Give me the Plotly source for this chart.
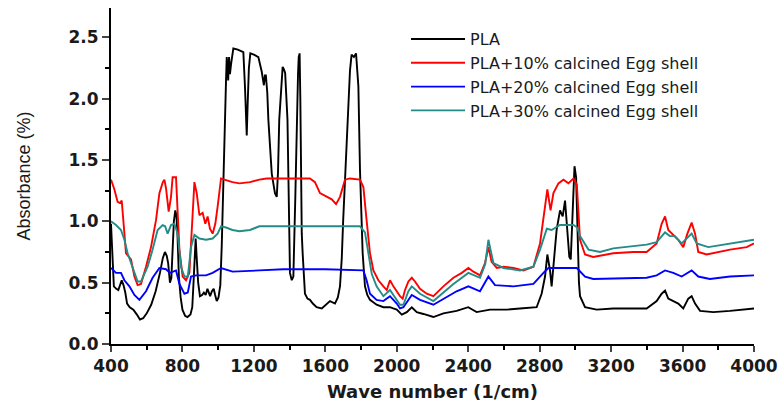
import plotly.graph_objects as go

series_names = ["PLA", "PLA+10% calcined Egg shell", "PLA+20% calcined Egg shell", "PLA+30% calcined Egg shell"]
series_colors = ["#000000", "#ff0000", "#0000ff", "#238c86"]

pla_wn = [400, 408, 416, 430, 441, 460, 470, 480, 490, 505, 525, 545, 562, 580, 600, 625, 650, 674, 690, 702, 712, 720, 730, 738, 745, 752, 760, 766, 772, 780, 790, 800, 815, 828, 845, 855, 862, 868, 874, 880, 888, 898, 910, 920, 930, 940, 948, 955, 965, 975, 983, 992, 1002, 1012, 1020, 1030, 1038, 1044, 1048, 1052, 1056, 1061, 1066, 1072, 1085, 1110, 1141, 1150, 1156, 1160, 1165, 1172, 1180, 1200, 1225, 1244, 1256, 1262, 1267, 1275, 1281, 1300, 1310, 1318, 1328, 1335, 1342, 1352, 1361, 1368, 1375, 1388, 1395, 1402, 1412, 1421, 1432, 1440, 1447, 1451, 1456, 1460, 1463, 1468, 1473, 1486, 1500, 1514, 1530, 1551, 1580, 1608, 1626, 1654, 1670, 1682, 1692, 1700, 1719, 1738, 1747, 1760, 1772, 1785, 1794, 1809, 1822, 1835, 1850, 1887, 1925, 1962, 1980, 2000, 2028, 2045, 2056, 2084, 2112, 2149, 2205, 2261, 2335, 2400, 2447, 2522, 2616, 2690, 2783, 2811, 2830, 2843, 2858, 2867, 2880, 2895, 2914, 2929, 2942, 2951, 2966, 2974, 2985, 2995, 3004, 3012, 3020, 3026, 3054, 3119, 3212, 3399, 3455, 3483, 3502, 3520, 3548, 3576, 3604, 3632, 3651, 3670, 3698, 3772, 3866, 3959, 4000]
pla_abs = [0.98, 0.70, 0.47, 0.45, 0.44, 0.52, 0.48, 0.42, 0.33, 0.30, 0.28, 0.24, 0.20, 0.21, 0.25, 0.32, 0.43, 0.58, 0.70, 0.75, 0.72, 0.66, 0.50, 0.54, 0.75, 1.00, 1.09, 1.05, 0.90, 0.55, 0.38, 0.28, 0.23, 0.22, 0.24, 0.30, 0.50, 0.75, 0.86, 0.70, 0.50, 0.39, 0.40, 0.42, 0.40, 0.45, 0.42, 0.39, 0.43, 0.45, 0.40, 0.35, 0.38, 0.48, 0.80, 1.45, 1.90, 2.15, 2.34, 2.20, 2.15, 2.34, 2.20, 2.28, 2.41, 2.40, 2.38, 2.10, 1.90, 1.70, 1.95, 2.25, 2.37, 2.36, 2.34, 2.22, 2.11, 2.19, 2.19, 2.05, 1.83, 1.39, 1.30, 1.23, 1.20, 1.40, 1.83, 2.10, 2.26, 2.24, 2.21, 1.83, 1.20, 0.58, 0.52, 0.55, 1.20, 1.83, 2.20, 2.34, 2.37, 2.00, 1.50, 0.90, 0.74, 0.41, 0.37, 0.36, 0.33, 0.30, 0.29, 0.33, 0.35, 0.33, 0.38, 0.47, 0.70, 1.01, 1.69, 2.23, 2.36, 2.34, 2.37, 2.10, 1.42, 0.74, 0.47, 0.40, 0.36, 0.32, 0.30, 0.30, 0.29, 0.28, 0.24, 0.25, 0.26, 0.30, 0.26, 0.245, 0.22, 0.25, 0.27, 0.30, 0.26, 0.28, 0.28, 0.29, 0.30, 0.41, 0.55, 0.73, 0.60, 0.47, 0.66, 0.93, 1.09, 1.04, 1.17, 1.01, 0.71, 0.69, 1.17, 1.45, 1.36, 0.90, 0.50, 0.39, 0.30, 0.28, 0.29, 0.29, 0.35, 0.41, 0.435, 0.37, 0.35, 0.33, 0.29, 0.37, 0.39, 0.33, 0.27, 0.26, 0.27, 0.28, 0.29]

es10_wn = [400, 410, 419, 437, 450, 460, 466, 475, 484, 512, 531, 549, 568, 596, 624, 652, 671, 690, 699, 708, 723, 736, 745, 764, 773, 783, 801, 820, 839, 854, 867, 880, 895, 913, 928, 941, 954, 969, 984, 997, 1016, 1035, 1080, 1119, 1178, 1231, 1271, 1514, 1542, 1570, 1608, 1636, 1660, 1682, 1710, 1738, 1794, 1813, 1831, 1850, 1869, 1897, 1925, 1944, 1962, 1981, 2009, 2018, 2033, 2046, 2065, 2084, 2102, 2130, 2168, 2205, 2261, 2317, 2364, 2401, 2429, 2466, 2494, 2513, 2531, 2560, 2597, 2653, 2709, 2765, 2802, 2830, 2843, 2861, 2877, 2905, 2933, 2961, 2989, 3008, 3017, 3026, 3054, 3100, 3212, 3324, 3399, 3455, 3483, 3502, 3520, 3548, 3576, 3604, 3627, 3651, 3670, 3688, 3735, 3866, 3959, 4000]
es10_abs = [1.34, 1.30, 1.26, 1.16, 1.15, 1.17, 1.05, 0.85, 0.74, 0.69, 0.55, 0.48, 0.49, 0.63, 0.79, 1.01, 1.23, 1.32, 1.34, 1.27, 1.08, 1.20, 1.36, 1.36, 1.12, 0.77, 0.55, 0.52, 0.58, 1.01, 1.32, 1.23, 1.05, 1.07, 0.98, 1.04, 0.94, 0.90, 0.98, 1.12, 1.35, 1.34, 1.32, 1.31, 1.32, 1.34, 1.35, 1.35, 1.32, 1.23, 1.20, 1.18, 1.14, 1.20, 1.34, 1.35, 1.34, 1.28, 1.01, 0.74, 0.60, 0.52, 0.47, 0.44, 0.52, 0.47, 0.41, 0.39, 0.37, 0.44, 0.51, 0.54, 0.51, 0.45, 0.41, 0.39, 0.47, 0.54, 0.58, 0.62, 0.59, 0.56, 0.66, 0.79, 0.67, 0.62, 0.63, 0.62, 0.60, 0.63, 0.82, 1.12, 1.26, 1.09, 1.23, 1.31, 1.34, 1.31, 1.35, 1.30, 1.04, 0.85, 0.73, 0.71, 0.74, 0.75, 0.75, 0.82, 0.98, 1.04, 0.93, 0.89, 0.85, 0.79, 0.90, 0.99, 0.90, 0.75, 0.73, 0.77, 0.79, 0.82]

es20_wn = [400, 428, 456, 475, 503, 531, 559, 596, 633, 671, 708, 730, 764, 783, 811, 830, 848, 876, 932, 969, 1016, 1081, 1231, 1365, 1600, 1813, 1831, 1850, 1887, 1925, 1962, 2000, 2018, 2037, 2084, 2130, 2205, 2335, 2401, 2466, 2513, 2550, 2653, 2765, 2821, 2849, 3008, 3054, 3100, 3399, 3455, 3502, 3548, 3595, 3651, 3688, 3753, 3866, 4000]
es20_abs = [0.62, 0.58, 0.58, 0.52, 0.47, 0.40, 0.36, 0.43, 0.54, 0.62, 0.61, 0.58, 0.60, 0.49, 0.41, 0.42, 0.55, 0.56, 0.56, 0.58, 0.62, 0.59, 0.60, 0.61, 0.61, 0.60, 0.52, 0.41, 0.36, 0.35, 0.39, 0.33, 0.29, 0.30, 0.40, 0.36, 0.32, 0.43, 0.47, 0.43, 0.55, 0.48, 0.47, 0.49, 0.58, 0.62, 0.62, 0.55, 0.53, 0.54, 0.56, 0.60, 0.58, 0.55, 0.60, 0.55, 0.53, 0.55, 0.56]

es30_wn = [400, 428, 456, 475, 493, 521, 549, 568, 605, 633, 661, 689, 703, 717, 736, 755, 773, 792, 811, 830, 848, 867, 895, 932, 969, 997, 1016, 1044, 1080, 1119, 1178, 1231, 1365, 1551, 1700, 1794, 1822, 1841, 1860, 1887, 1925, 1962, 1981, 2000, 2018, 2037, 2065, 2084, 2130, 2205, 2317, 2401, 2466, 2495, 2513, 2541, 2597, 2690, 2765, 2802, 2840, 2867, 2914, 2989, 3010, 3026, 3073, 3138, 3212, 3399, 3455, 3502, 3529, 3557, 3595, 3651, 3679, 3744, 3866, 4000]
es30_abs = [1.00, 0.97, 0.93, 0.85, 0.74, 0.63, 0.51, 0.51, 0.63, 0.77, 0.93, 0.97, 0.96, 0.90, 0.97, 0.98, 0.90, 0.63, 0.55, 0.55, 0.79, 0.89, 0.86, 0.85, 0.86, 0.90, 0.96, 0.95, 0.93, 0.92, 0.93, 0.96, 0.96, 0.96, 0.96, 0.96, 0.91, 0.74, 0.57, 0.47, 0.39, 0.44, 0.40, 0.36, 0.32, 0.32, 0.43, 0.47, 0.41, 0.35, 0.49, 0.58, 0.54, 0.65, 0.85, 0.66, 0.62, 0.60, 0.63, 0.77, 0.94, 0.93, 0.97, 0.97, 0.95, 0.88, 0.77, 0.75, 0.78, 0.81, 0.83, 0.91, 0.88, 0.88, 0.82, 0.90, 0.82, 0.79, 0.82, 0.85]

x_tickvals = [400, 800, 1200, 1600, 2000, 2400, 2800, 3200, 3600, 4000]
y_tickvals = [0.0, 0.5, 1.0, 1.5, 2.0, 2.5]

xs = [pla_wn, es10_wn, es20_wn, es30_wn]
ys = [pla_abs, es10_abs, es20_abs, es30_abs]

fig = go.Figure()
for name, color, x, y in zip(series_names, series_colors, xs, ys):
    fig.add_trace(go.Scatter(x=x, y=y, mode="lines", name=name,
                             line=dict(color=color, width=1.9)))

tickfont = dict(family="DejaVu Sans", size=17, color="#1a1a1a", weight="bold")
fig.update_layout(
    width=779, height=406,
    margin=dict(l=111, r=25, t=8, b=62),
    paper_bgcolor="white", plot_bgcolor="white",
    showlegend=True,
    legend=dict(x=0.4588, y=0.958, xanchor="left", yanchor="top",
                font=dict(family="DejaVu Sans", size=16, color="#1a1a1a"),
                bgcolor="rgba(0,0,0,0)", tracegroupgap=0, itemwidth=54),
    xaxis=dict(range=[400, 4000], tickvals=x_tickvals, ticks="outside", ticklen=6, tickwidth=1.5,
               showline=True, linecolor="black", linewidth=2, showgrid=False, zeroline=False,
               tickfont=tickfont,
               minor=dict(dtick=200, tick0=400, ticks="outside", ticklen=4, tickwidth=1.5, tickcolor="black"),
               title=dict(text="Wave number (1/cm)", font=dict(family="DejaVu Sans", size=18, color="#1a1a1a", weight="bold"), standoff=10),
               automargin=False),
    yaxis=dict(range=[0, 2.74], tickvals=y_tickvals, tickformat=".1f", ticks="outside", ticklen=7, tickwidth=1.5,
               showline=True, linecolor="black", linewidth=2, showgrid=False, zeroline=False,
               tickfont=tickfont,
               minor=dict(dtick=0.25, tick0=0, ticks="outside", ticklen=4, tickwidth=1.5, tickcolor="black"),
               title=dict(text="Absorbance (%)", font=dict(family="Arial, Liberation Sans", size=18, color="#1a1a1a"), standoff=33),
               automargin=False),
)

fig.write_html("out.html")
